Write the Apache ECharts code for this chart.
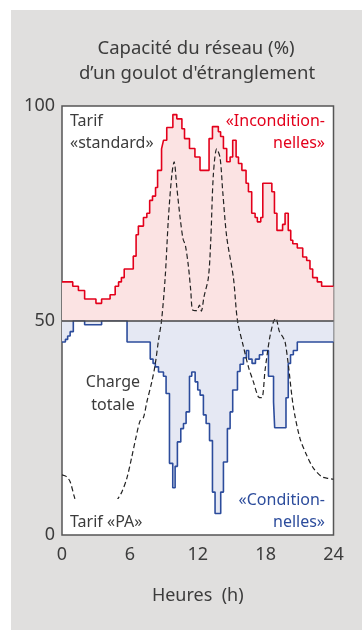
<!DOCTYPE html>
<html>
<head>
<meta charset="utf-8">
<script src="https://cdn.jsdelivr.net/npm/echarts@6/dist/echarts.min.js"></script>
<style>
  body { margin: 0; background: #fff; }
  #bg { position: absolute; left: 11px; top: 10px; width: 351px; height: 620px; background: #e0dfde; }
  #chart { position: absolute; left: 0; top: 0; width: 362px; height: 630px; }
</style>
</head>
<body>
<div id="bg"></div>
<div id="chart"></div>
<script>
// "Inconditionnelles" (tarif standard), step line above 50
const redHours = [0, 0.95, 1.45, 2, 3, 3.5, 4.25, 4.7, 5, 5.25, 5.5, 6.3, 6.55, 6.75, 7.2, 7.5, 7.75, 8.0, 8.27, 8.45,
    8.8, 8.97, 9.26, 9.8, 10.15, 10.6, 10.83, 11.27, 11.75, 12.2, 13.0, 13.3, 13.82, 14.02, 14.27, 14.56, 14.86, 15.09, 15.39, 15.6,
    15.9, 16.27, 16.48, 16.77, 17.07, 17.27, 17.57, 17.75, 18.55, 18.78, 19.0, 19.5, 19.72, 20.0, 20.22, 20.4, 20.8, 21.28, 21.63, 21.92,
    22.16, 22.57, 22.95, 24];
const redValues = [59, 58, 57, 55, 54, 55, 56, 58, 59, 60, 62, 65, 70, 72, 74, 75, 78, 79, 81, 85,
    90, 92, 95, 98, 97, 94.7, 92.4, 90.1, 88.1, 85, 92.4, 95.2, 94, 92.9, 90.1, 87, 88.1, 92, 88.1, 86.6,
    85, 82, 80, 75, 74, 73, 74, 82, 80, 75, 71, 72.4, 75, 71, 68.7, 67.9, 66.9, 64.8, 64, 62,
    60, 59, 58, 58];

// "Conditionnelles" (tarif PA), step line below 50
const blueHours = [0, 0.3, 0.5, 0.72, 1.0, 2.0, 3.5, 5.75, 7.8, 8.05, 8.25, 8.53, 8.97, 9.2, 9.5, 9.79, 10.0, 10.2, 10.5, 10.74,
    10.97, 11.27, 11.47, 11.77, 12.0, 12.21, 12.5, 12.74, 13.04, 13.3, 13.53, 14.03, 14.27, 14.62, 14.86, 15.09, 15.51, 15.74, 16.04, 16.3,
    16.5, 16.8, 17.1, 17.45, 17.75, 18.25, 18.7, 18.8, 19.8, 20.0, 20.2, 20.45, 20.8, 24];
const blueValues = [45, 45.6, 46.4, 47.4, 50, 49, 50, 45, 41, 40, 39.2, 38, 37, 33, 16.7, 11, 16, 21.7, 24.8, 26,
    28.7, 37, 38, 35.7, 33.8, 32.6, 28, 26, 22, 10, 5, 10, 17, 24.8, 28.7, 33.8, 38.1, 39.8, 41.3, 43,
    41, 40, 41, 42, 43, 37, 31, 25, 32, 40, 42, 43, 45, 45];

// "Charge totale", dashed curve
const loadHours = [0, 0.4, 0.72, 1.08, 1.5, 2.5, 3.5, 4.3, 4.85, 5.3, 5.73, 6.17, 6.55, 6.9, 7.2, 7.5, 7.94, 8.23, 8.53, 8.8,
    9.12, 9.41, 9.71, 9.91, 10.15, 10.44, 10.7, 10.9, 11.18, 11.38, 11.56, 11.91, 12.15, 12.32, 12.55, 12.94, 13.15, 13.38, 13.68, 13.97,
    14.21, 14.56, 15.15, 15.51, 16.04, 16.5, 16.92, 17.36, 17.66, 17.95, 18.33, 18.69, 18.9, 19.22, 19.51, 19.72, 20.01, 20.45, 21.04, 21.63,
    22.22, 22.96, 23.55, 24];
const loadValues = [14, 13.6, 12.4, 9, 5.5, 3, 3, 5, 8, 10.1, 13.2, 18.2, 22.9, 26.6, 27.4, 31, 35.7, 39.6, 45.4, 50,
    60, 74, 84, 87, 81, 74, 69, 67.6, 62.5, 57, 52.4, 52.3, 53.6, 52.2, 55.5, 60, 68.7, 84, 90, 88,
    80, 69.5, 60, 50, 43.9, 39, 35.7, 32.2, 32, 38.4, 45.5, 49.7, 50.5, 47.4, 46.2, 45, 39.6, 29.9, 22.5, 18.6,
    15.6, 13.6, 13.2, 13];

const xTicks = [0, 6, 12, 18, 24];
const yTicks = [0, 50, 100];

const FONT = 'Noto Sans';
const GREY = '#3c3c3c';

const zip = (xs, ys) => xs.map((x, i) => [x, ys[i]]);

const chart = echarts.init(document.getElementById('chart'), null, { renderer: 'canvas' });

const option = {
    animation: false,
    textStyle: { fontFamily: FONT },
    grid: {
        left: 62, top: 106, width: 271.5, height: 429,
        show: true, backgroundColor: '#fff', borderColor: '#555', borderWidth: 1.5
    },
    xAxis: {
        type: 'value', min: xTicks[0], max: xTicks[xTicks.length - 1], interval: 6,
        axisLine: { show: false }, axisTick: { show: false }, splitLine: { show: false },
        axisLabel: { fontSize: 18, color: GREY, margin: 11, fontFamily: FONT },
        name: 'Heures  (h)', nameLocation: 'middle', nameGap: 52,
        nameTextStyle: { fontSize: 18, color: GREY, fontFamily: FONT }
    },
    yAxis: {
        type: 'value', min: yTicks[0], max: yTicks[yTicks.length - 1], interval: 50,
        axisLine: { show: false }, axisTick: { show: false }, splitLine: { show: false },
        axisLabel: { fontSize: 18, color: GREY, margin: 7, fontFamily: FONT }
    },
    series: [
        {
            name: 'Conditionnelles', type: 'line', step: 'end', z: 2,
            data: zip(blueHours, blueValues), showSymbol: false,
            lineStyle: { color: '#2c4c9c', width: 1.6 },
            areaStyle: { color: '#e5e8f3', opacity: 1, origin: 50 }
        },
        {
            name: 'Inconditionnelles', type: 'line', step: 'end', z: 3,
            data: zip(redHours, redValues), showSymbol: false,
            lineStyle: { color: '#e3001b', width: 1.6 },
            areaStyle: { color: '#fbe3e3', opacity: 1, origin: 50 },
            markLine: {
                silent: true, symbol: 'none', label: { show: false },
                lineStyle: { color: '#444', width: 1.6, type: 'solid' },
                data: [{ yAxis: 50 }]
            }
        },
        {
            name: 'Charge totale', type: 'line', smooth: 0.3, z: 4,
            data: zip(loadHours, loadValues), showSymbol: false,
            lineStyle: { color: '#222', width: 1.2, type: [5, 3] }
        }
    ],
    graphic: [
        { type: 'text', x: 196, y: 49, z: 50, style: { text: 'Capacité du réseau (%)', font: '18.5px "Noto Sans"', fill: GREY, textAlign: 'center', textVerticalAlign: 'middle' } },
        { type: 'text', x: 197, y: 74, z: 50, style: { text: 'd’un goulot d\'étranglement', font: '18.5px "Noto Sans"', fill: GREY, textAlign: 'center', textVerticalAlign: 'middle' } },
        { type: 'text', x: 70, y: 121, z: 50, style: { text: 'Tarif', font: '16px "Noto Sans"', fill: GREY, textVerticalAlign: 'middle' } },
        { type: 'text', x: 70, y: 143, z: 50, style: { text: '«standard»', font: '16px "Noto Sans"', fill: GREY, textVerticalAlign: 'middle' } },
        { type: 'text', x: 325, y: 121, z: 50, style: { text: '«Incondition-', font: '16px "Noto Sans"', fill: '#e3001b', textAlign: 'right', textVerticalAlign: 'middle' } },
        { type: 'text', x: 325, y: 143, z: 50, style: { text: 'nelles»', font: '16px "Noto Sans"', fill: '#e3001b', textAlign: 'right', textVerticalAlign: 'middle' } },
        { type: 'text', x: 113, y: 382, z: 50, style: { text: 'Charge', font: '16px "Noto Sans"', fill: GREY, textAlign: 'center', textVerticalAlign: 'middle' } },
        { type: 'text', x: 113, y: 405, z: 50, style: { text: 'totale', font: '16px "Noto Sans"', fill: GREY, textAlign: 'center', textVerticalAlign: 'middle' } },
        { type: 'rect', z: 49, shape: { x: 63, y: 499, width: 86, height: 35 }, style: { fill: '#fff' } },
        { type: 'text', x: 70, y: 522, z: 50, style: { text: 'Tarif «PA»', font: '16px "Noto Sans"', fill: GREY, textVerticalAlign: 'middle' } },
        { type: 'text', x: 325, y: 500, z: 50, style: { text: '«Condition-', font: '16px "Noto Sans"', fill: '#2c4c9c', textAlign: 'right', textVerticalAlign: 'middle' } },
        { type: 'text', x: 325, y: 522, z: 50, style: { text: 'nelles»', font: '16px "Noto Sans"', fill: '#2c4c9c', textAlign: 'right', textVerticalAlign: 'middle' } }
    ]
};

chart.setOption(option);
</script>
</body>
</html>
